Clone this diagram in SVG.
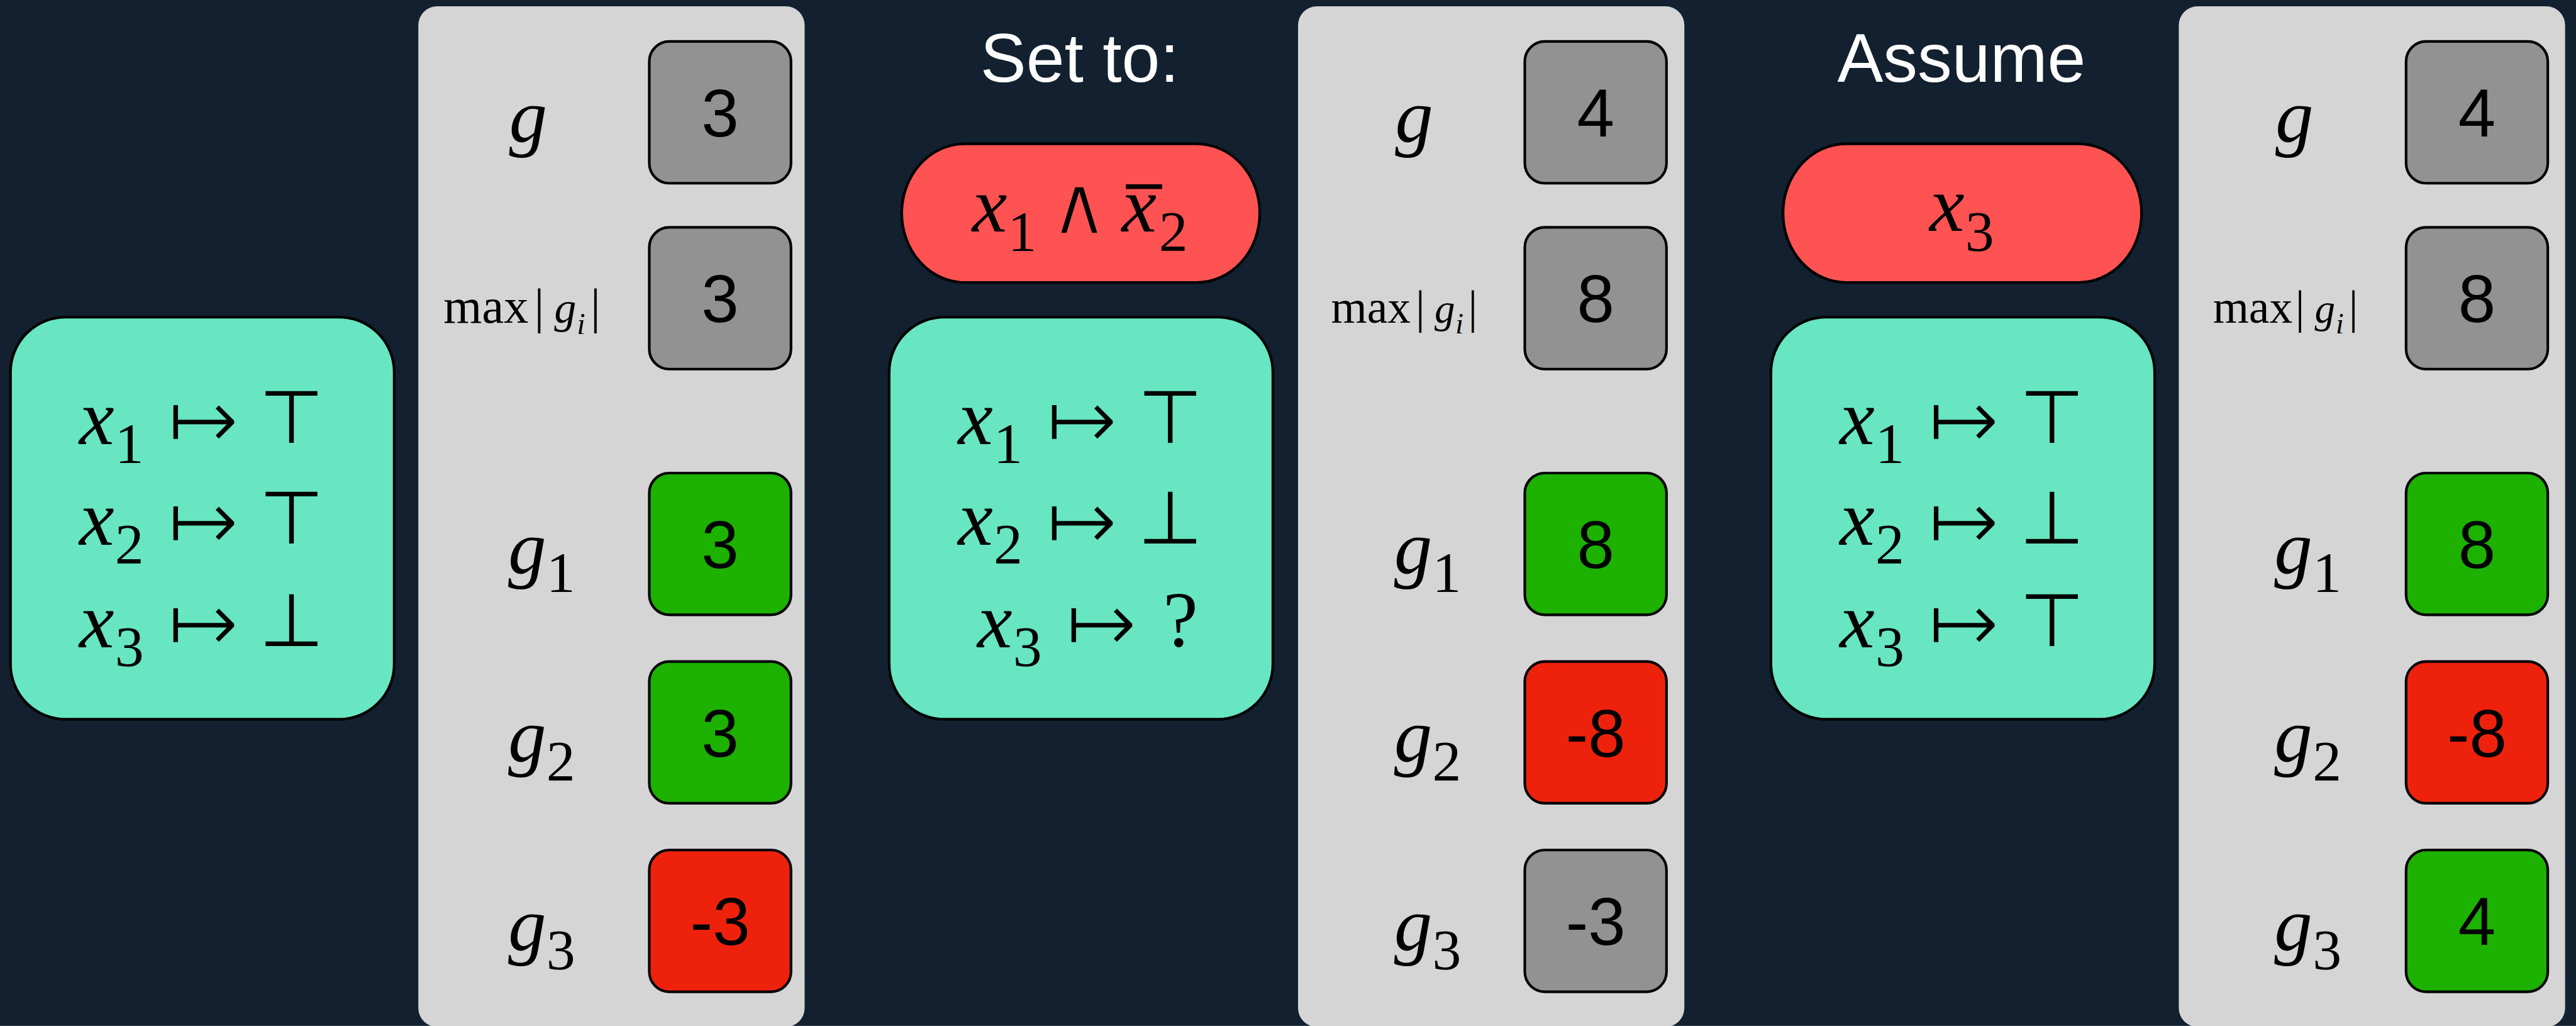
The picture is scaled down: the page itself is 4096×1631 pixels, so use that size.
<svg xmlns="http://www.w3.org/2000/svg" width="4096" height="1631" viewBox="0 0 4096 1631">
<style>
.panel{fill:#D5D5D5}
.vbox{stroke:#000;stroke-width:5}
.gray{fill:#929292}
.green{fill:#1DB100}
.red{fill:#EE220C}
.mint{fill:#67E6C1;stroke:#000;stroke-width:5}
.pill{fill:#FF5353;stroke:#000;stroke-width:5}
.num{font-family:"Liberation Sans",Arial,sans-serif;font-size:128px;text-anchor:middle;fill:#000}
.title{font-family:"Liberation Sans",Arial,sans-serif;font-size:131px;text-anchor:middle;fill:#fff}
.mi{font-family:"Liberation Serif","Times New Roman",serif;font-style:italic;font-size:150px}
.gi{font-family:"Liberation Serif","Times New Roman",serif;font-style:italic;font-size:145px}
.sub{font-family:"Liberation Serif","Times New Roman",serif;font-size:110px}
.rm{font-family:"Liberation Serif","Times New Roman",serif}
.arr{font-family:"DejaVu Sans",sans-serif;font-size:165px;text-anchor:middle;stroke:#67E6C1;stroke-width:5}
.tb{font-family:"DejaVu Sans",sans-serif;font-size:141px;text-anchor:middle}
.q{font-family:"Liberation Serif","Times New Roman",serif;font-size:150px;text-anchor:middle}
.wedge{font-family:"DejaVu Sans",sans-serif;font-size:158px;text-anchor:middle;stroke:#FF5353;stroke-width:5}
</style>
<g transform="scale(0.8346)">
<rect x="0" y="0" width="4908" height="1954" fill="#12202F"/>

<!-- Panel 1 -->
<g id="panel1">
<rect class="panel" x="797" y="12" width="736" height="1944" rx="36"/>
<rect class="vbox gray" x="1237" y="79" width="270" height="270" rx="38"/>
<rect class="vbox gray" x="1237" y="433" width="270" height="270" rx="38"/>
<rect class="vbox green" x="1237" y="901" width="270" height="270" rx="38"/>
<rect class="vbox green" x="1237" y="1260" width="270" height="270" rx="38"/>
<rect class="vbox red" x="1237" y="1619" width="270" height="270" rx="38"/>
<text class="num" x="1372" y="260">3</text>
<text class="num" x="1372" y="614">3</text>
<text class="num" x="1372" y="1082">3</text>
<text class="num" x="1372" y="1441">3</text>
<text class="num" x="1372" y="1800">-3</text>
<text class="gi" x="970" y="269">g</text>
<text class="rm" style="font-size:94px"><tspan x="845" y="615">max</tspan><tspan x="1018" y="615">|</tspan><tspan font-style="italic" style="font-size:84px" x="1056" y="615">g</tspan><tspan font-style="italic" style="font-size:58px" x="1099" y="636">i</tspan><tspan x="1125" y="615">|</tspan></text>
<text><tspan class="gi" x="968" y="1091">g</tspan><tspan class="sub" x="1041" y="1128">1</tspan></text>
<text><tspan class="gi" x="968" y="1450">g</tspan><tspan class="sub" x="1041" y="1487">2</tspan></text>
<text><tspan class="gi" x="968" y="1809">g</tspan><tspan class="sub" x="1041" y="1846">3</tspan></text>
</g>

<!-- Panel 2 -->
<g id="panel2">
<rect class="panel" x="2473" y="12" width="736" height="1944" rx="36"/>
<rect class="vbox gray" x="2905" y="79" width="270" height="270" rx="38"/>
<rect class="vbox gray" x="2905" y="433" width="270" height="270" rx="38"/>
<rect class="vbox green" x="2905" y="901" width="270" height="270" rx="38"/>
<rect class="vbox red" x="2905" y="1260" width="270" height="270" rx="38"/>
<rect class="vbox gray" x="2905" y="1619" width="270" height="270" rx="38"/>
<text class="num" x="3040" y="260">4</text>
<text class="num" x="3040" y="614">8</text>
<text class="num" x="3040" y="1082">8</text>
<text class="num" x="3040" y="1441">-8</text>
<text class="num" x="3040" y="1800">-3</text>
<text class="gi" x="2658" y="269">g</text>
<text class="rm" style="font-size:88px"><tspan x="2536" y="615">max</tspan><tspan x="2697" y="615">|</tspan><tspan font-style="italic" style="font-size:78px" x="2733" y="615">g</tspan><tspan font-style="italic" style="font-size:55px" x="2773" y="635">i</tspan><tspan x="2797" y="615">|</tspan></text>
<text><tspan class="gi" x="2656" y="1091">g</tspan><tspan class="sub" x="2729" y="1128">1</tspan></text>
<text><tspan class="gi" x="2656" y="1450">g</tspan><tspan class="sub" x="2729" y="1487">2</tspan></text>
<text><tspan class="gi" x="2656" y="1809">g</tspan><tspan class="sub" x="2729" y="1846">3</tspan></text>
</g>

<!-- Panel 3 -->
<g id="panel3">
<rect class="panel" x="4151" y="12" width="736" height="1944" rx="36"/>
<rect class="vbox gray" x="4584" y="79" width="270" height="270" rx="38"/>
<rect class="vbox gray" x="4584" y="433" width="270" height="270" rx="38"/>
<rect class="vbox green" x="4584" y="901" width="270" height="270" rx="38"/>
<rect class="vbox red" x="4584" y="1260" width="270" height="270" rx="38"/>
<rect class="vbox green" x="4584" y="1619" width="270" height="270" rx="38"/>
<text class="num" x="4719" y="260">4</text>
<text class="num" x="4719" y="614">8</text>
<text class="num" x="4719" y="1082">8</text>
<text class="num" x="4719" y="1441">-8</text>
<text class="num" x="4719" y="1800">4</text>
<text class="gi" x="4335" y="269">g</text>
<text class="rm" style="font-size:88px"><tspan x="4216" y="615">max</tspan><tspan x="4373" y="615">|</tspan><tspan font-style="italic" style="font-size:78px" x="4410" y="615">g</tspan><tspan font-style="italic" style="font-size:55px" x="4450" y="635">i</tspan><tspan x="4475" y="615">|</tspan></text>
<text><tspan class="gi" x="4333" y="1091">g</tspan><tspan class="sub" x="4406" y="1128">1</tspan></text>
<text><tspan class="gi" x="4333" y="1450">g</tspan><tspan class="sub" x="4406" y="1487">2</tspan></text>
<text><tspan class="gi" x="4333" y="1809">g</tspan><tspan class="sub" x="4406" y="1846">3</tspan></text>
</g>

<!-- Assignment 1 -->
<g id="assign1">
<rect class="mint" x="20" y="604" width="731" height="766" rx="105"/>
<text><tspan class="mi" x="151" y="846">x</tspan><tspan class="sub" x="219" y="882">1</tspan><tspan class="arr" x="387.5" y="856">↦</tspan><tspan class="tb" x="555.5" y="844">⊤</tspan></text>
<text><tspan class="mi" x="151" y="1038">x</tspan><tspan class="sub" x="219" y="1074">2</tspan><tspan class="arr" x="387.5" y="1048">↦</tspan><tspan class="tb" x="555.5" y="1035">⊤</tspan></text>
<text><tspan class="mi" x="151" y="1233">x</tspan><tspan class="sub" x="219" y="1269">3</tspan><tspan class="arr" x="387.5" y="1243">↦</tspan><tspan class="tb" x="555.5" y="1231">⊥</tspan></text>
</g>

<!-- Set to -->
<g id="setto">
<text class="title" x="2057" y="156">Set to:</text>
<rect class="pill" x="1718" y="274" width="682" height="264" rx="120" ry="132"/>
<text><tspan class="mi" x="1852" y="441">x</tspan><tspan class="sub" x="1920" y="478">1</tspan><tspan class="wedge" x="2056" y="446">∧</tspan><tspan class="mi" x="2137" y="441">x</tspan><tspan class="sub" x="2208" y="478">2</tspan></text>
<rect x="2145" y="351" width="69" height="9" fill="#000"/>
</g>

<!-- Assignment 2 -->
<g id="assign2">
<rect class="mint" x="1694" y="604" width="731" height="766" rx="105"/>
<text><tspan class="mi" x="1825" y="846">x</tspan><tspan class="sub" x="1893" y="882">1</tspan><tspan class="arr" x="2061.5" y="856">↦</tspan><tspan class="tb" x="2229.5" y="844">⊤</tspan></text>
<text><tspan class="mi" x="1825" y="1038">x</tspan><tspan class="sub" x="1893" y="1074">2</tspan><tspan class="arr" x="2061.5" y="1048">↦</tspan><tspan class="tb" x="2229.5" y="1035">⊥</tspan></text>
<text><tspan class="mi" x="1862" y="1233">x</tspan><tspan class="sub" x="1930" y="1269">3</tspan><tspan class="arr" x="2098.5" y="1243">↦</tspan><tspan class="q" x="2249" y="1230">?</tspan></text>
</g>

<!-- Assume -->
<g id="assume">
<text class="title" x="3737" y="156">Assume</text>
<rect class="pill" x="3397" y="274" width="683" height="264" rx="120" ry="132"/>
<text><tspan class="mi" x="3676" y="440">x</tspan><tspan class="sub" x="3744" y="478">3</tspan></text>
</g>

<!-- Assignment 3 -->
<g id="assign3">
<rect class="mint" x="3374" y="604" width="731" height="766" rx="105"/>
<text><tspan class="mi" x="3505" y="846">x</tspan><tspan class="sub" x="3573" y="882">1</tspan><tspan class="arr" x="3741.5" y="856">↦</tspan><tspan class="tb" x="3909.5" y="844">⊤</tspan></text>
<text><tspan class="mi" x="3505" y="1038">x</tspan><tspan class="sub" x="3573" y="1074">2</tspan><tspan class="arr" x="3741.5" y="1048">↦</tspan><tspan class="tb" x="3909.5" y="1035">⊥</tspan></text>
<text><tspan class="mi" x="3505" y="1233">x</tspan><tspan class="sub" x="3573" y="1269">3</tspan><tspan class="arr" x="3741.5" y="1243">↦</tspan><tspan class="tb" x="3909.5" y="1231">⊤</tspan></text>
</g>

<g id="connectors"/>
</g>
</svg>
